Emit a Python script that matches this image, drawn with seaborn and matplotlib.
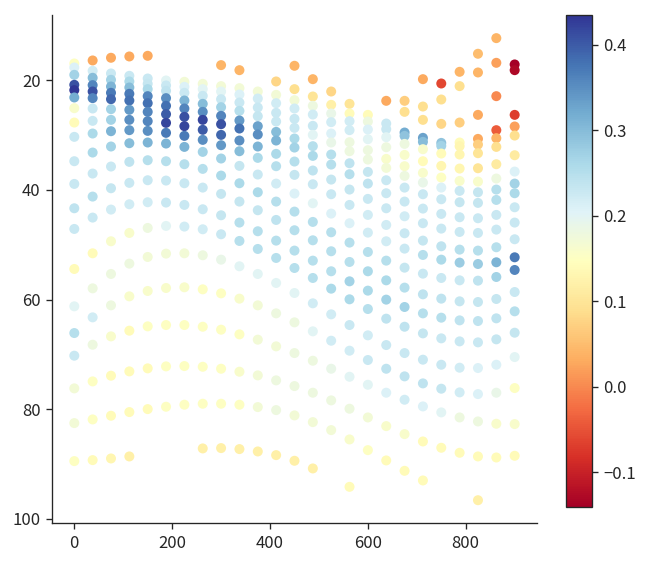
import matplotlib
matplotlib.use("Agg")
import matplotlib.pyplot as plt
import matplotlib.colors as mcolors
import matplotlib.cm as cm
import pandas as pd
import seaborn as sns

# station positions along the section
dist = [0, 37.5, 75, 112.5, 150, 187.5, 225, 262.5, 300, 337.5, 375, 412.5, 450,
        487.5, 525, 562.5, 600, 637.5, 675, 712.5, 750, 787.5, 825, 862.5, 900]

# depth of each sample, one list per station
depths = [
    [16.96, 17.69, 19.03, 20.85, 21.82, 23.16, 25.11, 27.73, 30.34, 34.78, 38.92, 43.36, 47.13, 54.43, 61.24, 66.11, 70.24, 76.20, 82.53, 89.46],
    [16.41, 18.30, 19.57, 20.91, 22.07, 23.28, 25.17, 27.42, 29.73, 33.20, 37.03, 41.23, 45.06, 51.57, 57.96, 63.25, 68.24, 74.93, 81.86, 89.28],
    [15.92, 18.78, 19.94, 21.16, 22.31, 23.47, 25.29, 27.24, 29.31, 32.10, 35.75, 39.71, 43.60, 49.38, 55.34, 61.06, 66.72, 73.89, 81.19, 88.98],
    [15.68, 19.21, 20.24, 21.34, 22.49, 23.71, 25.41, 27.24, 29.12, 31.50, 34.90, 38.73, 42.63, 47.86, 53.45, 59.42, 65.68, 73.10, 80.52, 88.61],
    [15.56, 19.70, 20.67, 21.64, 22.92, 24.20, 25.78, 27.48, 29.25, 31.37, 34.60, 38.25, 42.26, 46.95, 52.24, 58.44, 64.89, 72.55, 79.98],
    [20.06, 20.97, 21.95, 23.28, 24.68, 26.20, 27.79, 29.61, 31.56, 34.78, 38.31, 42.32, 46.58, 51.63, 57.90, 64.65, 72.19, 79.55],
    [20.30, 21.22, 22.31, 23.71, 25.17, 26.69, 28.39, 30.16, 32.17, 35.33, 38.80, 42.75, 46.70, 51.57, 57.77, 64.65, 72.13, 79.18],
    [20.67, 21.64, 22.86, 24.32, 25.78, 27.24, 29.06, 30.89, 33.08, 36.18, 39.59, 43.54, 47.19, 51.93, 58.14, 64.96, 72.26, 79.00, 87.15],
    [17.26, 21.09, 22.07, 23.47, 24.93, 26.51, 28.03, 29.98, 31.86, 34.29, 37.40, 40.74, 44.64, 48.10, 52.73, 58.87, 65.50, 72.62, 79.00, 87.09],
    [18.18, 21.46, 22.62, 24.08, 25.60, 27.36, 28.82, 31.01, 32.96, 35.63, 38.80, 42.14, 45.97, 49.32, 53.94, 59.84, 66.35, 73.16, 79.18, 87.27],
    [22.07, 23.35, 24.99, 26.57, 28.39, 29.91, 32.10, 34.17, 37.21, 40.44, 43.72, 47.55, 50.78, 55.34, 61.06, 67.32, 73.83, 79.61, 87.70],
    [20.24, 22.68, 24.20, 25.96, 27.54, 29.43, 31.01, 33.44, 35.69, 38.86, 42.14, 45.49, 49.26, 52.42, 56.98, 62.52, 68.54, 74.74, 80.16, 88.37],
    [17.38, 21.64, 23.65, 25.17, 27.06, 28.70, 30.64, 32.29, 34.84, 37.27, 40.68, 43.97, 47.37, 51.08, 54.25, 58.81, 64.16, 69.76, 75.78, 81.13, 89.40],
    [19.82, 22.98, 24.68, 26.27, 28.33, 29.98, 32.04, 33.81, 36.48, 38.98, 42.45, 45.85, 49.20, 52.91, 56.07, 60.69, 65.80, 71.16, 76.99, 82.35, 90.80],
    [22.07, 24.50, 26.08, 27.66, 29.73, 31.37, 33.56, 35.39, 38.13, 40.80, 44.33, 47.74, 51.20, 54.85, 58.02, 62.70, 67.51, 72.62, 78.39, 83.81],
    [24.32, 26.08, 27.48, 29.12, 31.31, 32.96, 35.15, 37.15, 39.95, 42.75, 46.09, 49.62, 53.15, 56.68, 59.96, 64.65, 69.33, 74.08, 79.91, 85.51, 94.15],
    [26.33, 27.54, 29.00, 30.77, 32.77, 34.48, 36.73, 38.86, 41.65, 44.57, 47.80, 51.33, 54.85, 58.38, 61.73, 66.53, 71.03, 75.54, 81.50, 87.46],
    [23.77, 27.91, 28.94, 30.40, 32.23, 34.36, 36.00, 38.25, 40.62, 43.36, 46.40, 49.38, 52.91, 56.50, 60.02, 63.49, 68.30, 72.62, 76.99, 83.08, 89.34],
    [23.77, 25.78, 29.55, 30.16, 31.62, 33.63, 35.69, 37.46, 39.59, 42.14, 44.82, 47.92, 50.72, 54.19, 57.83, 61.36, 64.96, 69.76, 74.01, 78.27, 84.54, 91.23],
    [19.82, 24.81, 27.24, 30.52, 31.25, 32.59, 34.78, 36.91, 38.67, 40.80, 43.42, 46.09, 49.26, 51.87, 55.28, 59.05, 62.52, 66.17, 70.97, 75.29, 79.49, 85.88, 92.99],
    [20.61, 23.53, 27.97, 31.44, 31.98, 33.38, 35.63, 37.76, 39.59, 41.72, 44.39, 47.07, 50.29, 52.73, 56.07, 59.84, 63.31, 67.08, 71.89, 76.26, 80.58, 87.03],
    [18.48, 21.09, 27.73, 31.37, 32.04, 33.56, 36.12, 38.37, 40.19, 42.26, 45.00, 47.68, 50.90, 53.27, 56.50, 60.33, 63.80, 67.63, 72.43, 76.93, 81.50, 87.94],
    [15.19, 18.60, 26.33, 30.71, 31.74, 33.32, 36.06, 38.49, 40.44, 42.38, 45.18, 47.86, 51.08, 53.52, 56.56, 60.45, 63.92, 67.81, 72.49, 77.24, 82.23, 88.61, 96.59],
    [12.34, 16.84, 22.92, 29.12, 30.58, 32.17, 35.33, 37.94, 39.95, 41.84, 44.57, 47.25, 50.47, 53.21, 55.89, 59.90, 63.43, 67.26, 71.89, 76.99, 82.65, 88.80],
    [17.14, 18.18, 26.33, 28.45, 30.10, 33.69, 36.67, 38.86, 40.62, 43.18, 45.97, 49.01, 52.30, 54.61, 58.63, 62.15, 66.05, 70.49, 76.14, 82.71, 88.49],
]

# measured value at each sample (colour)
values = [
    [0.15, 0.21, 0.27, 0.41, 0.435, 0.32, 0.16, 0.14, 0.23, 0.23, 0.23, 0.24, 0.23, 0.14, 0.20, 0.25, 0.23, 0.17, 0.17, 0.15],
    [0.03, 0.22, 0.30, 0.36, 0.41, 0.36, 0.23, 0.23, 0.26, 0.26, 0.23, 0.25, 0.23, 0.14, 0.18, 0.22, 0.18, 0.15, 0.15, 0.14],
    [0.03, 0.23, 0.27, 0.31, 0.37, 0.39, 0.27, 0.27, 0.31, 0.27, 0.23, 0.235, 0.22, 0.16, 0.18, 0.18, 0.16, 0.14, 0.14, 0.13],
    [0.03, 0.23, 0.26, 0.30, 0.37, 0.38, 0.34, 0.35, 0.34, 0.30, 0.24, 0.23, 0.22, 0.16, 0.18, 0.16, 0.14, 0.14, 0.14, 0.12],
    [0.03, 0.23, 0.235, 0.26, 0.36, 0.38, 0.36, 0.36, 0.35, 0.31, 0.25, 0.23, 0.22, 0.18, 0.17, 0.16, 0.15, 0.14, 0.14],
    [0.20, 0.23, 0.24, 0.35, 0.38, 0.40, 0.42, 0.37, 0.31, 0.25, 0.23, 0.23, 0.20, 0.17, 0.16, 0.15, 0.15, 0.15],
    [0.17, 0.21, 0.23, 0.31, 0.36, 0.41, 0.42, 0.37, 0.31, 0.25, 0.23, 0.23, 0.22, 0.17, 0.16, 0.15, 0.15, 0.15],
    [0.17, 0.20, 0.23, 0.30, 0.35, 0.42, 0.40, 0.35, 0.27, 0.25, 0.23, 0.23, 0.22, 0.18, 0.15, 0.15, 0.15, 0.15, 0.12],
    [0.04, 0.17, 0.20, 0.23, 0.27, 0.36, 0.41, 0.39, 0.34, 0.27, 0.26, 0.235, 0.235, 0.23, 0.19, 0.15, 0.15, 0.15, 0.15, 0.12],
    [0.04, 0.17, 0.21, 0.23, 0.25, 0.34, 0.38, 0.35, 0.30, 0.235, 0.26, 0.235, 0.25, 0.25, 0.20, 0.16, 0.15, 0.16, 0.15, 0.12],
    [0.17, 0.22, 0.23, 0.235, 0.33, 0.35, 0.31, 0.26, 0.23, 0.26, 0.235, 0.25, 0.25, 0.20, 0.17, 0.17, 0.17, 0.17, 0.12],
    [0.08, 0.17, 0.22, 0.23, 0.23, 0.30, 0.31, 0.26, 0.25, 0.22, 0.25, 0.24, 0.25, 0.25, 0.20, 0.18, 0.17, 0.18, 0.18, 0.12],
    [0.04, 0.09, 0.17, 0.22, 0.23, 0.23, 0.26, 0.27, 0.25, 0.235, 0.21, 0.25, 0.25, 0.25, 0.25, 0.20, 0.18, 0.18, 0.18, 0.17, 0.12],
    [0.04, 0.10, 0.18, 0.22, 0.23, 0.20, 0.25, 0.26, 0.24, 0.23, 0.20, 0.25, 0.25, 0.25, 0.25, 0.22, 0.20, 0.18, 0.18, 0.17, 0.12],
    [0.08, 0.12, 0.19, 0.22, 0.21, 0.19, 0.25, 0.25, 0.235, 0.23, 0.21, 0.25, 0.25, 0.25, 0.26, 0.22, 0.22, 0.19, 0.18, 0.17],
    [0.10, 0.14, 0.22, 0.22, 0.18, 0.18, 0.24, 0.25, 0.235, 0.23, 0.21, 0.25, 0.25, 0.27, 0.26, 0.23, 0.22, 0.20, 0.18, 0.16, 0.14],
    [0.14, 0.18, 0.21, 0.20, 0.18, 0.18, 0.235, 0.24, 0.23, 0.22, 0.22, 0.25, 0.26, 0.26, 0.25, 0.22, 0.23, 0.20, 0.17, 0.15],
    [0.03, 0.23, 0.23, 0.20, 0.18, 0.16, 0.17, 0.23, 0.23, 0.23, 0.22, 0.22, 0.25, 0.26, 0.27, 0.24, 0.23, 0.24, 0.21, 0.16, 0.14],
    [0.07, 0.09, 0.32, 0.29, 0.18, 0.16, 0.16, 0.18, 0.23, 0.23, 0.22, 0.23, 0.23, 0.235, 0.25, 0.27, 0.24, 0.23, 0.24, 0.22, 0.16, 0.14],
    [0.03, 0.09, 0.09, 0.33, 0.30, 0.16, 0.14, 0.16, 0.19, 0.23, 0.23, 0.23, 0.235, 0.25, 0.23, 0.24, 0.25, 0.235, 0.23, 0.24, 0.21, 0.14, 0.14],
    [-0.06, 0.09, 0.08, 0.29, 0.27, 0.14, 0.13, 0.15, 0.21, 0.23, 0.23, 0.23, 0.24, 0.26, 0.23, 0.24, 0.25, 0.23, 0.23, 0.235, 0.20, 0.14],
    [0.04, 0.09, 0.07, 0.14, 0.13, 0.13, 0.13, 0.16, 0.23, 0.235, 0.23, 0.23, 0.25, 0.28, 0.23, 0.235, 0.24, 0.23, 0.22, 0.22, 0.18, 0.14],
    [0.05, 0.04, 0.03, 0.03, 0.07, 0.10, 0.10, 0.16, 0.235, 0.235, 0.23, 0.23, 0.25, 0.28, 0.24, 0.235, 0.24, 0.23, 0.21, 0.21, 0.18, 0.14, 0.12],
    [0.04, 0.02, 0.00, -0.04, 0.04, 0.09, 0.11, 0.18, 0.25, 0.25, 0.23, 0.23, 0.25, 0.31, 0.27, 0.235, 0.24, 0.235, 0.21, 0.19, 0.16, 0.14],
    [-0.14, -0.13, -0.07, 0.02, 0.09, 0.11, 0.21, 0.27, 0.26, 0.23, 0.23, 0.23, 0.37, 0.36, 0.23, 0.25, 0.235, 0.20, 0.15, 0.16, 0.14],
]

rows = []
for x, ys, vs in zip(dist, depths, values):
    for y, v in zip(ys, vs):
        rows.append({'dist': x, 'depth': y, 'value': v})
df = pd.DataFrame(rows)

sns.set_style('ticks')
plt.rcParams['font.family'] = ['Noto Sans CJK SC', 'DejaVu Sans']
plt.rcParams['axes.unicode_minus'] = True

dpi = 120
fig = plt.figure(figsize=(647 / dpi, 563 / dpi), dpi=dpi)
ax = fig.add_axes([0.0808, 0.0705, 0.7487, 0.9028])
cax = fig.add_axes([0.8748, 0.100, 0.0397, 0.8733])

norm = mcolors.Normalize(vmin=df['value'].min(), vmax=df['value'].max())
sns.scatterplot(data=df, x='dist', y='depth', hue='value', palette='RdYlBu',
                hue_norm=norm, s=36, linewidth=0, legend=False, ax=ax)
ax.invert_yaxis()
ax.set_xlabel('')
ax.set_ylabel('')
sns.despine(ax=ax)

sm = cm.ScalarMappable(norm=norm, cmap='RdYlBu')
fig.colorbar(sm, cax=cax)

fig.savefig('out.png', dpi=dpi)
